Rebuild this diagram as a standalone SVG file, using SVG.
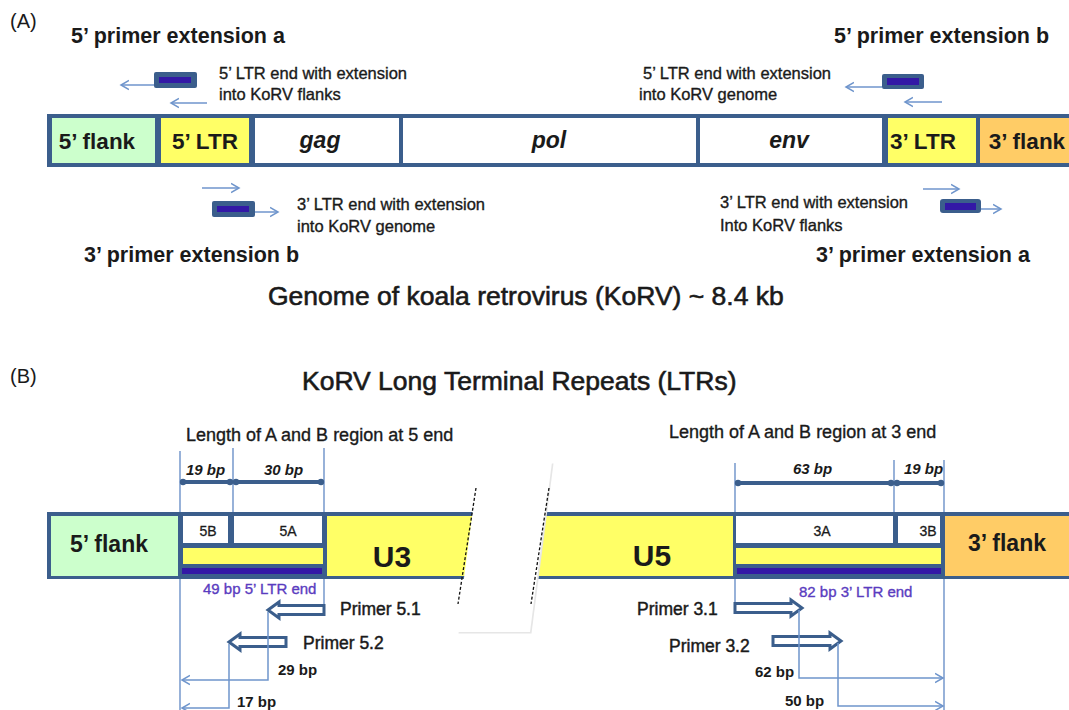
<svg xmlns="http://www.w3.org/2000/svg" width="1069" height="710" viewBox="0 0 1069 710">
<style>
text{font-family:"Liberation Sans",Arial,sans-serif;fill:#1a1a1a}
.lbl{font-size:21.5px;font-weight:bold}
.sm{font-size:16.5px;stroke:#1a1a1a;stroke-width:0.35}
.cell{font-size:22.5px;font-weight:bold;text-anchor:middle}
.gene{font-size:23px;font-weight:bold;font-style:italic;text-anchor:middle}
.title{font-size:26.5px;stroke:#1a1a1a;stroke-width:0.6}
.pl{font-size:17.5px;stroke:#1a1a1a;stroke-width:0.45}
.len{font-size:18px;stroke:#1a1a1a;stroke-width:0.35}
.bp{font-size:15px;font-weight:bold}
.dim{font-size:15px;font-weight:bold;font-style:italic}
.box{font-size:14px;text-anchor:middle;stroke:#1a1a1a;stroke-width:0.3}
.pur{font-size:15px;fill:#5a3cc0;stroke:#5a3cc0;stroke-width:0.35}
.thin{stroke:#6f95cc;stroke-width:1.5;fill:none}
.vl{stroke:#6088c4;stroke-width:1.3;fill:none}
.dl{stroke:#3b5e8c;stroke-width:4;fill:none}
.prim{fill:#fff;stroke:#3b5e8c;stroke-width:3;stroke-linejoin:miter}
</style>
<defs>
<marker id="ch" markerWidth="10" markerHeight="12" refX="8" refY="5" orient="auto" markerUnits="userSpaceOnUse" viewBox="0 0 10 10">
<path d="M0,0.5 L8,5 L0,9.5" fill="none" stroke="#6f95cc" stroke-width="1.5"/>
</marker>
<marker id="dot" markerWidth="8" markerHeight="8" refX="4" refY="4" markerUnits="userSpaceOnUse" viewBox="0 0 8 8">
<circle cx="4" cy="4" r="3.2" fill="#3b5e8c"/>
</marker>
</defs>

<!-- Part A -->
<text x="10" y="28" style="font-size:20px">(A)</text>
<g id="bar-A">
<rect x="47" y="114" width="1022" height="53" fill="#3b5e8c"/>
<g id="a-5flank"><rect x="52" y="118" width="103" height="45" fill="#ccffcc"/><text class="cell" x="97" y="149">5’ flank</text></g>
<g id="a-5ltr"><rect x="161" y="118" width="88" height="45" fill="#ffff66"/><text class="cell" x="205" y="149">5’ LTR</text></g>
<g id="a-gag"><rect x="255" y="118" width="144" height="45" fill="#fff"/><text class="gene" x="320" y="148">gag</text></g>
<g id="a-pol"><rect x="403" y="118" width="293" height="45" fill="#fff"/><text class="gene" x="549" y="148">pol</text></g>
<g id="a-env"><rect x="700" y="118" width="182" height="45" fill="#fff"/><text class="gene" x="789" y="148">env</text></g>
<g id="a-3ltr"><rect x="888" y="118" width="88" height="45" fill="#ffff66"/><text class="cell" x="923" y="149">3’ LTR</text></g>
<g id="a-3flank"><rect x="980" y="118" width="89" height="45" fill="#ffcc66"/><text class="cell" x="1027" y="149">3’ flank</text></g>
</g>

<g id="p5a">
<text class="lbl" x="71" y="43">5’ primer extension a</text>
<rect x="154" y="72" width="43" height="16" rx="2" fill="#3b5e8c"/>
<rect x="159" y="77" width="32" height="6" fill="#3318a6"/>
<text class="sm" x="219" y="79">5’ LTR end with extension</text>
<text class="sm" x="219" y="100">into KoRV flanks</text>
</g>
<g id="p5b">
<text class="lbl" x="834" y="43">5’ primer extension b</text>
<rect x="882" y="74" width="42" height="15" rx="2" fill="#3b5e8c"/>
<rect x="887" y="78" width="32" height="7" fill="#3318a6"/>
<text class="sm" x="643" y="79">5’ LTR end with extension</text>
<text class="sm" x="639" y="100">into KoRV genome</text>
</g>
<g id="p3b">
<rect x="212" y="201" width="43" height="16" rx="2" fill="#3b5e8c"/>
<rect x="217" y="206" width="32" height="6" fill="#3318a6"/>
<text class="sm" x="297" y="210">3’ LTR end with extension</text>
<text class="sm" x="297" y="232">into KoRV genome</text>
<text class="lbl" x="84" y="262">3’ primer extension b</text>
</g>
<g id="p3a">
<rect x="940" y="199" width="41" height="14" rx="3" fill="#3b5e8c"/>
<rect x="945" y="203" width="31" height="7" fill="#3318a6"/>
<text class="sm" x="720" y="208">3’ LTR end with extension</text>
<text class="sm" x="720" y="231">Into KoRV flanks</text>
<text class="lbl" x="816" y="262">3’ primer extension a</text>
</g>

<text class="title" x="268" y="305">Genome of koala retrovirus (KoRV) ~ 8.4 kb</text>

<!-- Part B -->
<text x="10" y="383" style="font-size:20px">(B)</text>
<text class="title" x="302" y="390">KoRV Long Terminal Repeats (LTRs)</text>
<text class="len" x="186" y="441">Length of A and B region at 5 end</text>
<text class="len" x="669" y="438">Length of A and B region at 3 end</text>

<g id="bar-B">
<rect x="47" y="512" width="1022" height="67" fill="#3b5e8c"/>
<g id="b-5flank"><rect x="51" y="516" width="127" height="60" fill="#ccffcc"/><text class="cell" x="109" y="552" style="font-size:23px">5’ flank</text></g>
<g id="b-5B"><rect x="183" y="516" width="45" height="27" fill="#fff"/><text class="box" x="208" y="536">5B</text></g>
<g id="b-5A"><rect x="234" y="516" width="88" height="27" fill="#fff"/><text class="box" x="288" y="536">5A</text></g>
<rect x="183" y="548" width="140" height="16" fill="#ffff66"/>
<rect x="182" y="568" width="140" height="6" fill="#3318a6"/>
<rect x="327" y="516" width="406" height="60" fill="#ffff66"/>
<g id="b-U3"><text x="392" y="567" style="font-size:30px;font-weight:bold;text-anchor:middle">U3</text></g>
<g id="b-U5"><text x="652" y="566" style="font-size:30px;font-weight:bold;text-anchor:middle">U5</text></g>
<g id="b-3A"><rect x="736" y="516" width="157" height="27" fill="#fff"/><text class="box" x="822" y="536">3A</text></g>
<g id="b-3B"><rect x="898" y="516" width="42" height="27" fill="#fff"/><text class="box" x="928" y="536">3B</text></g>
<rect x="736" y="548" width="205" height="16" fill="#ffff66"/>
<rect x="737" y="568" width="204" height="6" fill="#3318a6"/>
<g id="b-3flank"><rect x="945" y="516" width="124" height="60" fill="#ffcc66"/><text class="cell" x="1007" y="551" style="font-size:23px">3’ flank</text></g>
</g>

<g id="break">
<polygon points="480.5,463.5 553.5,463.5 531.5,633.5 458.5,633.5" fill="#e6e6e6"/>
<polygon points="479,462 552,462 530,632 457,632" fill="#fff"/>
<line x1="476" y1="488" x2="458" y2="604" stroke="#111" stroke-width="1.3" stroke-dasharray="3,2"/>
<line x1="549" y1="488" x2="531" y2="604" stroke="#111" stroke-width="1.3" stroke-dasharray="3,2"/>
</g>

<g id="dims">
<text class="dim" x="186" y="475">19 bp</text>
<text class="dim" x="264" y="475">30 bp</text>
<text class="dim" x="793" y="474">63 bp</text>
<text class="dim" x="904" y="474">19 bp</text>
</g>

<g id="primers">
<text class="pur" x="203" y="594">49 bp 5’ LTR end</text>
<text class="pur" x="799" y="597">82 bp 3’ LTR end</text>
<polygon class="prim" points="268,610 279,602 279,605.5 324,605.5 324,614.5 279,614.5 279,618"/>
<text class="pl" x="340" y="615">Primer 5.1</text>
<polygon class="prim" points="229,642 240,634 240,637.5 286,637.5 286,646.5 240,646.5 240,650"/>
<text class="pl" x="303" y="649">Primer 5.2</text>
<polygon class="prim" points="802,608 791,600 791,603.5 735,603.5 735,612.5 791,612.5 791,616"/>
<text class="pl" x="637" y="615">Primer 3.1</text>
<polygon class="prim" points="841,641 830,633 830,636.5 773,636.5 773,645.5 830,645.5 830,649"/>
<text class="pl" x="669" y="652">Primer 3.2</text>
<text class="bp" x="278" y="675">29 bp</text>
<text class="bp" x="237" y="707">17 bp</text>
<text class="bp" x="755" y="677">62 bp</text>
<text class="bp" x="785" y="706">50 bp</text>
</g>

<g id="connectors">
<line class="thin" x1="154" y1="85" x2="121" y2="85" marker-end="url(#ch)"/>
<line class="thin" x1="207" y1="103" x2="171" y2="103" marker-end="url(#ch)"/>
<line class="thin" x1="882" y1="87" x2="846" y2="87" marker-end="url(#ch)"/>
<line class="thin" x1="942" y1="102" x2="905" y2="102" marker-end="url(#ch)"/>
<line class="thin" x1="202" y1="188" x2="239" y2="188" marker-end="url(#ch)"/>
<line class="thin" x1="255" y1="212" x2="278" y2="212" marker-end="url(#ch)"/>
<line class="thin" x1="923" y1="189" x2="959" y2="189" marker-end="url(#ch)"/>
<line class="thin" x1="981" y1="209" x2="1001" y2="209" marker-end="url(#ch)"/>

<line class="vl" x1="180" y1="451" x2="180" y2="512"/>
<line class="vl" x1="233" y1="448" x2="233" y2="512"/>
<line class="vl" x1="324" y1="448" x2="324" y2="512"/>
<line class="vl" x1="735" y1="463" x2="735" y2="512"/>
<line class="vl" x1="894" y1="460" x2="894" y2="512"/>
<line class="vl" x1="944" y1="460" x2="944" y2="512"/>
<line class="vl" x1="180" y1="579" x2="180" y2="710"/>
<line class="vl" x1="324" y1="579" x2="324" y2="604"/>
<line class="vl" x1="735" y1="579" x2="735" y2="602"/>
<line class="vl" x1="944" y1="579" x2="944" y2="710"/>

<line class="dl" x1="183" y1="482" x2="230" y2="482" marker-start="url(#dot)" marker-end="url(#dot)"/>
<line class="dl" x1="236" y1="482" x2="321" y2="482" marker-start="url(#dot)" marker-end="url(#dot)"/>
<line class="dl" x1="738" y1="483" x2="891" y2="483" marker-start="url(#dot)" marker-end="url(#dot)"/>
<line class="dl" x1="897" y1="483" x2="941" y2="483" marker-start="url(#dot)" marker-end="url(#dot)"/>

<path class="thin" d="M268,612 V680 H182" marker-end="url(#ch)"/>
<path class="thin" d="M229,644 V708 H182" marker-end="url(#ch)"/>
<path class="thin" d="M799,610 V678 H943" marker-end="url(#ch)"/>
<path class="thin" d="M838,643 V706 H943" marker-end="url(#ch)"/>
</g>
</svg>
